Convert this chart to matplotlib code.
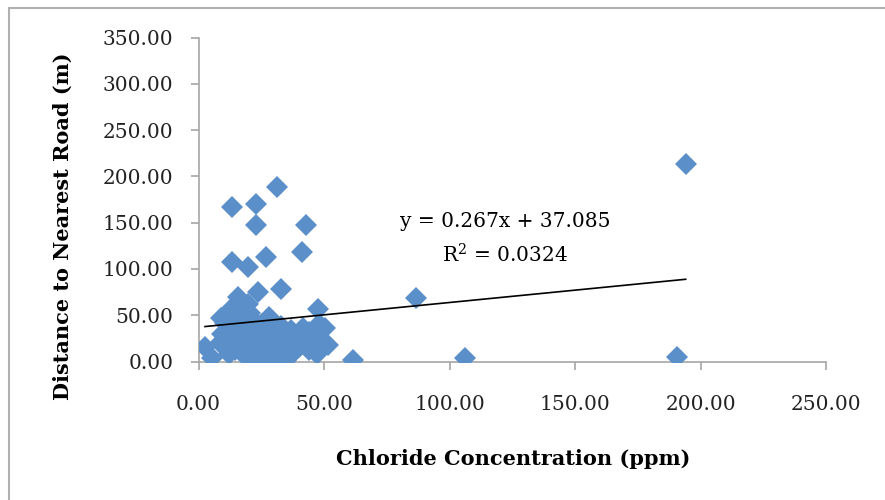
import numpy as np
import matplotlib.pyplot as plt
from matplotlib.patches import Rectangle

# chloride (ppm) vs distance to nearest road (m)
chloride = [31.4, 13.4, 22.8, 22.8, 43.0, 41.1, 13.4, 19.6, 26.7, 15.8,
            23.8, 32.7, 28.1, 47.4, 9.0, 2.6, 5.3, 61.6, 51.6, 50.3,
            194.0, 190.7, 106.0, 86.5,
            10.5, 14.5, 18.5, 22.5, 25.0, 28.0, 32.0, 36.0, 40.0, 44.0, 48.0,
            9.5, 13.5, 18.5, 23.7, 30.4, 36.4, 41.6, 46.4,
            10.5, 16.5, 20.5, 25.3, 13.3, 19.7, 17.0, 34.0, 38.5, 30.0, 20.0,
            12.0, 16.0, 20.0, 24.0, 27.0, 31.0, 34.0, 38.0, 42.0, 45.0, 47.0,
            15.0, 19.0, 26.0, 29.0, 33.0, 37.0, 22.0, 17.0, 12.0, 8.5, 27.0,
            35.0, 11.0, 44.0, 48.0]
distance = [188.8, 167.0, 170.0, 147.4, 147.4, 118.6, 107.8, 102.4, 112.5, 70.0,
            75.4, 78.0, 48.4, 56.4, 46.7, 16.0, 3.5, 1.6, 17.8, 35.9,
            213.0, 5.2, 4.0, 68.6,
            20.0, 12.0, 6.0, 2.0, 10.0, 14.0, 4.0, 8.0, 16.0, 12.0, 27.0,
            30.0, 32.0, 26.0, 34.0, 24.0, 30.0, 36.0, 30.0,
            42.0, 48.0, 52.0, 40.0, 58.0, 62.0, 22.0, 20.0, 22.0, 3.0, 16.0,
            8.0, 16.0, 20.0, 24.0, 18.0, 14.0, 28.0, 10.0, 22.0, 20.0, 8.0,
            38.0, 36.0, 32.0, 40.0, 38.0, 34.0, 44.0, 44.0, 24.0, 20.0, 6.0,
            2.0, 40.0, 32.0, 40.0]

slope, intercept = 0.267, 37.085
eq_text = "y = 0.267x + 37.085"
r2_text = "R$^2$ = 0.0324"

plt.rcParams['font.family'] = ['DejaVu Serif']
plt.rcParams['mathtext.fontset'] = 'dejavuserif'

fig = plt.figure(figsize=(8.85, 5.0), dpi=100)
ax = fig.add_axes([198.5 / 885, 1 - 361.5 / 500, (826.3 - 198.5) / 885, (361.5 - 37.7) / 500])

ax.plot(chloride, distance, 'D', color='#5a8fc9', markersize=11,
        markeredgewidth=0, zorder=3)

xs = np.array([min(chloride), max(chloride)])
ax.plot(xs, slope * xs + intercept, color='black', lw=1.2, zorder=4)

ax.text(122, 151, eq_text, ha='center', va='center', fontsize=14.5, zorder=5)
ax.text(122, 115, r2_text, ha='center', va='center', fontsize=14.5, zorder=5)

ax.set_xlim(0, 250)
ax.set_ylim(0, 350)
ax.set_xticks(np.arange(0, 251, 50))
ax.set_yticks(np.arange(0, 351, 50))
ax.xaxis.set_major_formatter(lambda v, p: f"{v:.2f}")
ax.yaxis.set_major_formatter(lambda v, p: f"{v:.2f}")

for s in ['top', 'right']:
    ax.spines[s].set_visible(False)
for s in ['left', 'bottom']:
    ax.spines[s].set_color('#a6a6a6')
    ax.spines[s].set_linewidth(1.2)
    ax.spines[s].set_zorder(1)
ax.tick_params(axis='both', colors='#a6a6a6', labelcolor='#222222',
               length=6, width=1.2, labelsize=14.5)
ax.tick_params(axis='x', pad=18)
ax.tick_params(axis='y', pad=12)

ax.set_xlabel("Chloride Concentration (ppm)", fontsize=15, fontweight='bold')
ax.set_ylabel("Distance to Nearest Road (m)", fontsize=15, fontweight='bold')
ax.xaxis.set_label_coords(0.501, -0.27)
ax.yaxis.set_label_coords(-0.2, 0.418)

# chart area border (only top and left visible in the crop)
fig.patches.append(Rectangle((9 / 885, -0.5), 2, 1.5 - 8 / 500, transform=fig.transFigure,
                             fill=False, edgecolor='#b0b0b0', lw=1.5))

fig.savefig("out.png", dpi=100)
